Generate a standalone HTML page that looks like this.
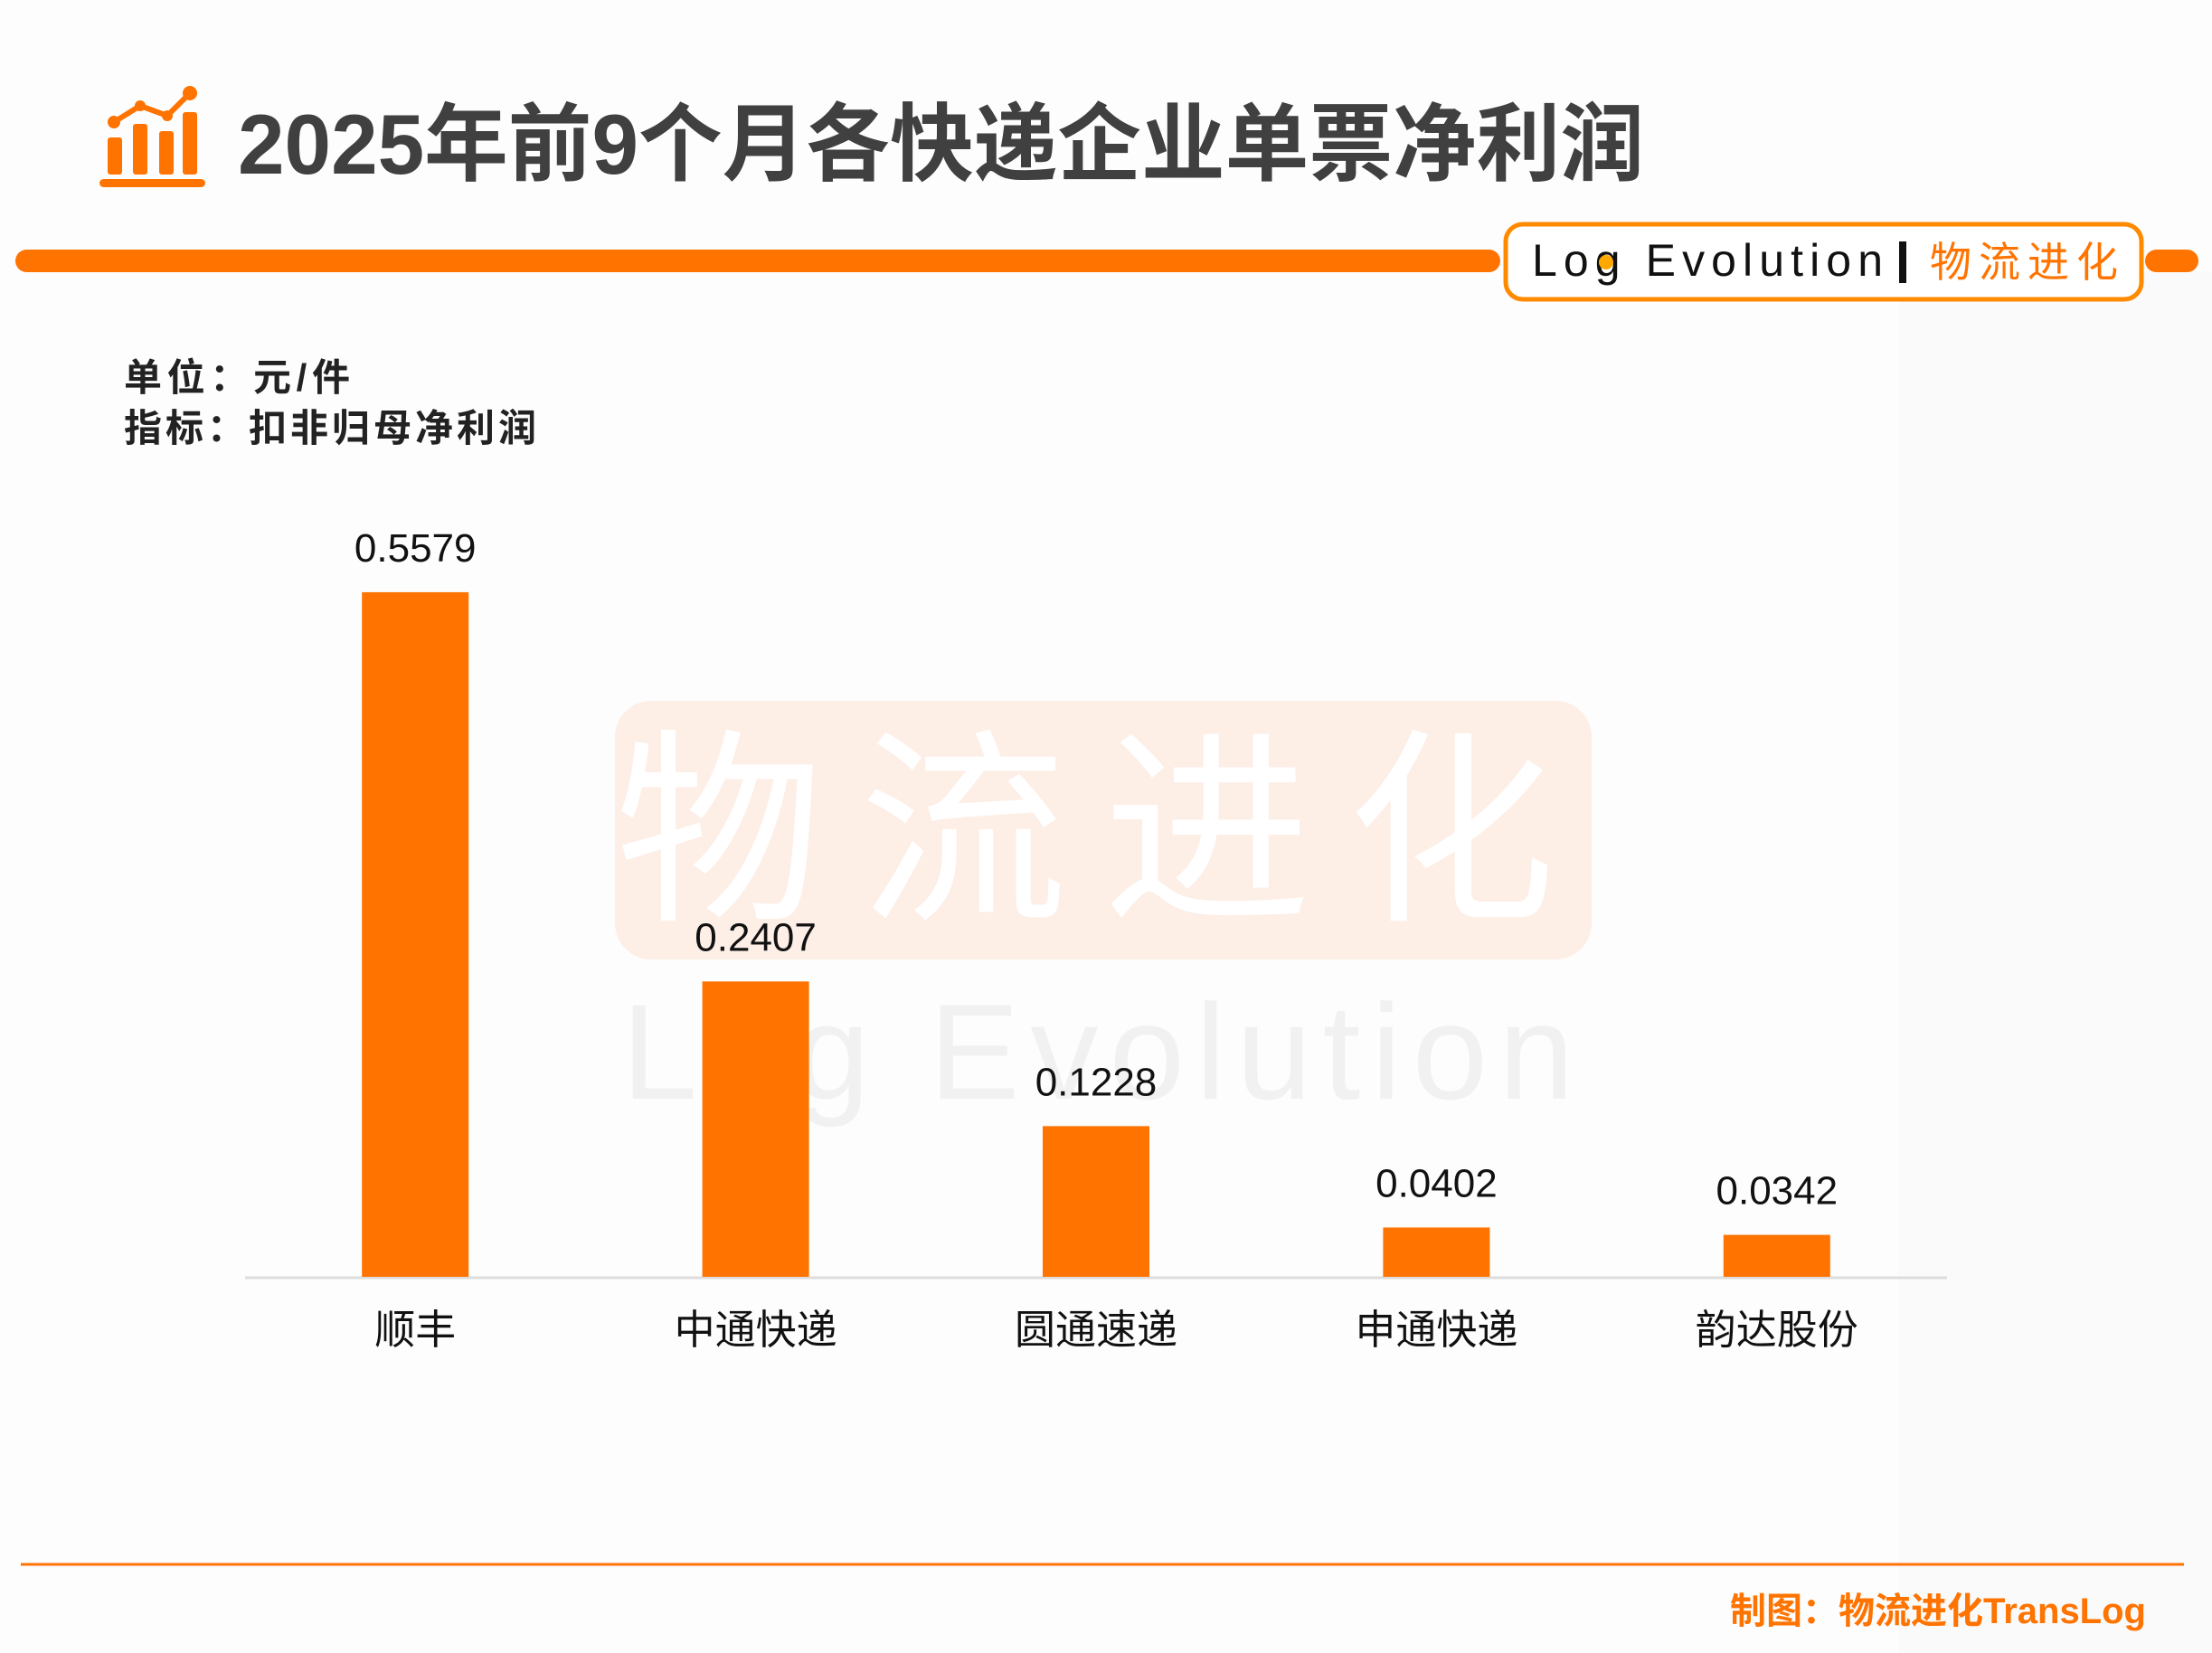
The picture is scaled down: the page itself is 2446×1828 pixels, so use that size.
<!DOCTYPE html>
<html><head><meta charset="utf-8">
<style>
html,body{margin:0;padding:0;background:#fff;}
svg{display:block;}
text{font-family:"Liberation Sans","Noto Sans CJK SC",sans-serif;}
</style></head>
<body>
<svg id="chart" width="2446" height="1828" viewBox="0 0 2446 1828" xmlns="http://www.w3.org/2000/svg">
  <rect x="0" y="0" width="2446" height="1828" fill="#fdfdfd"/>
  <rect x="2100" y="300" width="346" height="1528" fill="#fafafa"/>
  <g fill="#ff7300">
    <rect x="119" y="152" width="16" height="41" rx="3"/>
    <rect x="147" y="137" width="16" height="56" rx="3"/>
    <rect x="176" y="145" width="16" height="48" rx="3"/>
    <rect x="202" y="124" width="16" height="69" rx="3"/>
    <rect x="110" y="198" width="117" height="9" rx="4.5"/>
    <polyline points="126,135 155,117 185,128 210,103" fill="none" stroke="#ff7300" stroke-width="6"/>
    <circle cx="126" cy="135" r="7"/><circle cx="155" cy="117" r="6"/><circle cx="185" cy="128" r="6"/><circle cx="210" cy="103" r="8"/>
  </g>
  <text x="263" y="192" font-size="94" font-weight="bold" fill="#404040" textLength="1555" lengthAdjust="spacingAndGlyphs">2025年前9个月各快递企业单票净利润</text>
  <rect x="17" y="276" width="1642" height="25" rx="12.5" fill="#ff7300"/>
  <rect x="2372" y="276" width="59" height="25" rx="12.5" fill="#ff7300"/>
  <g>
    <rect x="1665" y="248" width="703" height="83" rx="19" fill="#fff" stroke="#ff8a00" stroke-width="5"/>
    <text x="1694" y="305" font-size="50" fill="#111" textLength="388" lengthAdjust="spacing">Log Evolution</text>
    <circle cx="1776" cy="290" r="8" fill="#ffa800"/>
    <rect x="2100" y="267" width="8" height="46" fill="#111"/>
    <text x="2134" y="306" font-size="46" fill="#ff7300" textLength="208" lengthAdjust="spacing">物流进化</text>
  </g>
  <text x="137" y="432" font-size="42" font-weight="bold" fill="#222" textLength="250" lengthAdjust="spacing">单位：元/件</text>
  <text x="137" y="488" font-size="42" font-weight="bold" fill="#222" textLength="456" lengthAdjust="spacing">指标：扣非归母净利润</text>
  <g>
    <rect x="680" y="775" width="1080" height="286" rx="40" fill="#fdeee6"/>
    <text x="1220" y="1000" font-size="230" fill="#ffffff" text-anchor="middle" letter-spacing="40">物流进化</text>
    <text x="1220" y="1215" font-size="150" fill="#eeeeee" fill-opacity="0.8" text-anchor="middle" letter-spacing="12">Log Evolution</text>
  </g>
  <line x1="271" y1="1413" x2="2153" y2="1413" stroke="#dddddd" stroke-width="3"/>
  <g id="bars"></g>
  <line x1="23" y1="1730" x2="2415" y2="1730" stroke="#ff7300" stroke-width="3"/>
  <text x="2373" y="1795" font-size="40" font-weight="bold" fill="#ff7300" text-anchor="end">制图：物流进化TransLog</text>
</svg>
<script>
const categories = ["顺丰","中通快递","圆通速递","申通快递","韵达股份"];
const values = [0.5579,0.2407,0.1228,0.0402,0.0342];
const valueLabels = ["0.5579","0.2407","0.1228","0.0402","0.0342"];

const NS = "http://www.w3.org/2000/svg";
const g = document.getElementById("bars");
const x0 = 271, x1 = 2153, baseY = 1412, pxPerUnit = 1357, barW = 118;
const step = (x1 - x0) / categories.length;
function xCenter(i){ return x0 + step * (i + 0.5); }
function yScale(v){ return baseY - v * pxPerUnit; }
categories.forEach((c, i) => {
  const cx = xCenter(i), top = yScale(values[i]);
  const r = document.createElementNS(NS, "rect");
  r.setAttribute("x", cx - barW/2); r.setAttribute("y", top);
  r.setAttribute("width", barW); r.setAttribute("height", baseY - top);
  r.setAttribute("fill", "#ff7300");
  
  
  g.appendChild(r);
  const t = document.createElementNS(NS, "text");
  t.setAttribute("x", cx); t.setAttribute("y", top - 34);
  t.setAttribute("font-size", "44"); t.setAttribute("fill", "#111");
  t.setAttribute("text-anchor", "middle");
  t.textContent = valueLabels[i];
  
  
  g.appendChild(t);
  const l = document.createElementNS(NS, "text");
  l.setAttribute("x", cx); l.setAttribute("y", 1486);
  l.setAttribute("font-size", "45"); l.setAttribute("fill", "#111");
  l.setAttribute("text-anchor", "middle");
  l.textContent = c;
  
  
  g.appendChild(l);
});
</script>
</body></html>
